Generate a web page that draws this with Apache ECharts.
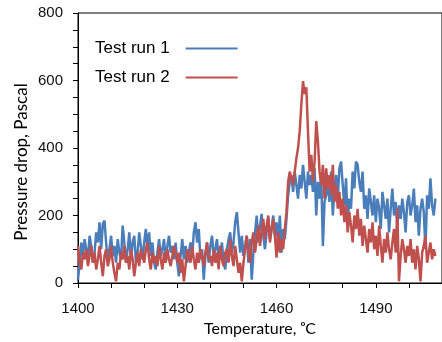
<!DOCTYPE html>
<html>
<head>
<meta charset="utf-8">
<script src="https://cdn.jsdelivr.net/npm/echarts@6/dist/echarts.min.js"></script>
<style>
html,body{margin:0;padding:0;background:#fff;}
#chart{width:442px;height:342px;}
</style>
</head>
<body>
<div id="chart"></div>
<script>
// Temperature sampling (°C): first reading and spacing between readings
const tempStart = 1400;
const tempStep = 0.5;
const xTickLabels = [1400, 1430, 1460, 1490];
const yTickLabels = [0, 200, 400, 600, 800];
const seriesNames = ['Test run 1', 'Test run 2'];
const xAxisTitle = 'Temperature, ᵒC';
const yAxisTitle = 'Pressure drop, Pascal';

// Pressure drop (Pascal), one reading every 0.5 °C from 1400 to 1508
const run1 = [
  10, 60, 120, 80, 130, 100, 70, 140, 110, 60,
  90, 150, 120, 180, 100, 175, 185, 120, 60, 100,
  140, 80, 110, 60, 130, 90, 70, 170, 120, 60,
  100, 150, 70, 120, 140, 60, 90, 150, 110, 70,
  120, 160, 100, 150, 80, 120, 60, 40, 90, 130,
  80, 100, 130, 60, 110, 140, 90, 110, 70, 120,
  60, 20, 80, 130, 70, 110, 60, 90, 120, 80,
  150, 180, 120, 160, 70, 100, 10, 80, 120, 60,
  110, 140, 80, 100, 130, 70, 90, 120, 60, 40,
  100, 130, 150, 90, 120, 180, 210, 150, 90, 140,
  80, 110, 140, 60, 130, 10, 90, 150, 200, 120,
  170, 205, 140, 100, 150, 190, 130, 160, 200, 140,
  180, 120, 200, 90, 160, 130, 190, 260, 300, 320,
  270, 330, 290, 250, 320, 280, 350, 300, 250, 330,
  290, 320, 270, 340, 200, 300, 250, 320, 110, 240,
  260, 300, 240, 330, 200, 280, 320, 250, 340, 360,
  290, 230, 310, 180, 250, 220, 330, 280, 360, 350,
  300, 270, 330, 220, 260, 190, 280, 240, 200, 260,
  180, 250, 220, 160, 270, 230, 190, 250, 150, 220,
  280, 200, 240, 170, 230, 190, 250, 210, 150, 240,
  260, 200, 230, 280, 180, 230, 140, 220, 250, 210,
  100, 260, 220, 310, 230, 200, 250
];
const run2 = [
  110, 60, 40, 90, 70, 100, 50, 80, 110, 60,
  90, 40, 70, 110, 60, 20, 80, 100, 50, 70,
  110, 60, 30, 5, 60, 40, 90, 70, 110, 60,
  80, 40, 100, 70, 20, 60, 90, 50, 100, 80,
  60, 100, 120, 70, 40, 90, 60, 80, 50, 110,
  70, 40, 90, 60, 100, 70, 50, 80, 110, 90,
  60, 90, 30, 70, 5, 50, 100, 80, 60, 110,
  70, 40, 90, 60, 100, 80, 50, 90, 120, 70,
  80, 50, 100, 60, 90, 40, 110, 70, 50, 90,
  100, 60, 130, 80, 50, 110, 70, 30, 60, 5,
  60, 100, 140, 90, 60, 120, 150, 90, 130, 170,
  110, 150, 190, 130, 170, 200, 120, 160, 190, 140,
  75, 150, 90, 130, 100, 160, 210, 300, 330, 310,
  290, 330, 370, 400, 450, 530, 598, 560, 580, 450,
  330, 380, 300, 360, 480, 420, 330, 290, 350, 250,
  340, 280, 320, 260, 350, 240, 290, 220, 270, 200,
  250, 180, 230, 150, 210, 170, 120, 200, 160, 220,
  140, 190, 110, 170, 130, 90, 160, 120, 180, 100,
  140, 80, 170, 110, 60, 130, 90, 150, 100, 70,
  120, 160, 90, 220, 5, 80, 130, 100, 60, 110,
  80, 130, 60, 100, 40, 110, 70, 5, 90, 110,
  140, 60, 90, 120, 70, 100, 80
];

function pairs(vals) {
  return vals.map((v, i) => [tempStart + i * tempStep, v]);
}

const chart = echarts.init(document.getElementById('chart'), null, {renderer: 'canvas'});
const axisFont = 'Liberation Sans';
const nameFont = 'Lato';
chart.setOption({
  animation: false,
  backgroundColor: '#fff',
  grid: {
    left: 78, top: 13, right: -7, bottom: 57,
    show: true, borderColor: '#000', borderWidth: 1, backgroundColor: 'transparent'
  },
  graphic: [{
    type: 'text',
    x: 22, y: 162,
    rotation: Math.PI / 2,
    style: {
      text: yAxisTitle, fontFamily: nameFont, fontSize: 17, fill: '#000',
      align: 'center', verticalAlign: 'middle'
    }
  }],
  legend: {
    orient: 'vertical',
    left: 95, top: 40, padding: 0,
    align: 'right',
    itemWidth: 52, itemHeight: 2, itemGap: 12,
    icon: 'rect',
    data: seriesNames,
    textStyle: {fontFamily: axisFont, fontSize: 17, color: '#000', lineHeight: 17, padding: [0, 11, 0, 0]}
  },
  xAxis: {
    type: 'value',
    min: 1400, max: 1510, interval: 10,
    name: xAxisTitle,
    nameLocation: 'middle', nameGap: 38,
    nameTextStyle: {fontFamily: nameFont, fontSize: 16, color: '#000'},
    axisLine: {show: true, lineStyle: {color: '#000', width: 1}},
    axisTick: {show: true, inside: false, length: 5, lineStyle: {color: '#000'}},
    axisLabel: {
      margin: 18, fontFamily: axisFont, fontSize: 15, color: '#111',
      showMaxLabel: false,
      formatter: v => xTickLabels.indexOf(v) >= 0 ? String(v) : ''
    },
    splitLine: {show: false}
  },
  yAxis: {
    type: 'value',
    min: 0, max: 800, interval: 200,
    axisLine: {show: true, lineStyle: {color: '#000', width: 1}},
    axisTick: {show: true, inside: false, length: 5, lineStyle: {color: '#000'}},
    minorTick: {show: true, splitNumber: 4, length: 5, lineStyle: {color: '#000'}},
    axisLabel: {
      margin: 15, fontFamily: axisFont, fontSize: 15, color: '#111',
      formatter: v => yTickLabels.indexOf(v) >= 0 ? String(v) : ''
    },
    splitLine: {show: false}
  },
  series: [
    {
      name: seriesNames[0], type: 'line', data: pairs(run1),
      showSymbol: false, symbol: 'none',
      color: '#4a7ebb',
      lineStyle: {width: 2.5, color: '#4a7ebb'}
    },
    {
      name: seriesNames[1], type: 'line', data: pairs(run2),
      showSymbol: false, symbol: 'none',
      color: '#c0504d',
      lineStyle: {width: 2.5, color: '#c0504d'}
    }
  ]
});
</script>
</body>
</html>
